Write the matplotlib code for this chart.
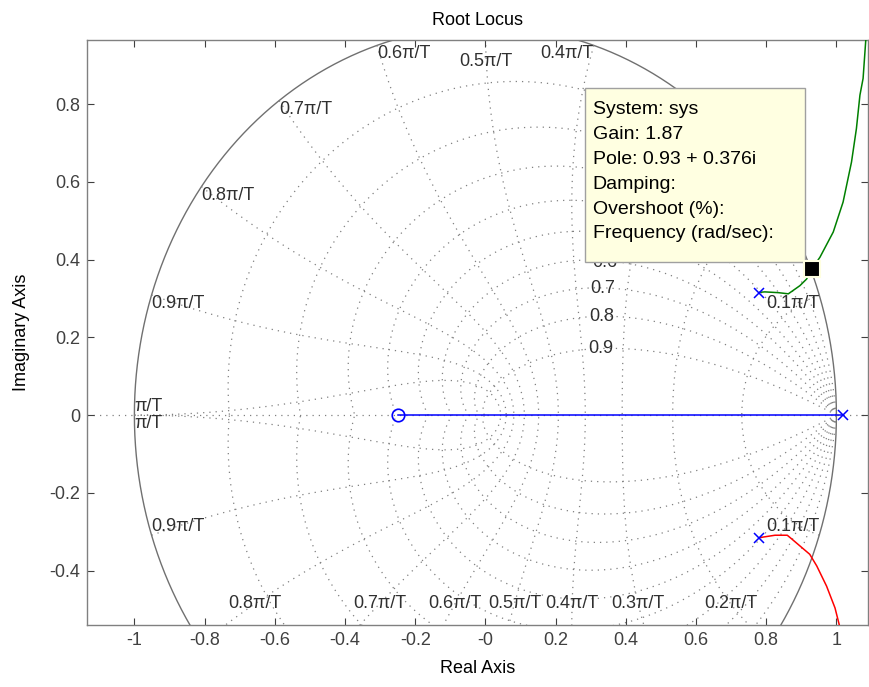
import numpy as np
import matplotlib
matplotlib.use('Agg')
import matplotlib.pyplot as plt
from matplotlib.patches import Rectangle

plt.rcParams['font.family'] = ['Liberation Sans', 'DejaVu Sans']

# --- data ---
zeros_re = [-0.25]
zeros_im = [0.0]
poles_re = [0.78, 0.78, 1.02]
poles_im = [0.315, -0.315, 0.0]

# real-axis branch (blue)
blue_x = [-0.25, 1.02]
blue_y = [0.0, 0.0]

# upper complex branch (green)
green_x = [0.782, 0.796, 0.835, 0.863, 0.896, 0.915, 0.93, 0.953, 0.991, 1.019,
           1.043, 1.057, 1.067, 1.076, 1.084]
green_y = [0.316, 0.317, 0.315, 0.312, 0.333, 0.350, 0.376, 0.406, 0.471, 0.548,
           0.651, 0.737, 0.823, 0.866, 0.969]

# lower complex branch (red)
red_x = [0.782, 0.825, 0.860, 0.872, 0.924, 0.944, 0.972, 0.996, 1.008]
red_y = [-0.315, -0.309, -0.309, -0.318, -0.358, -0.388, -0.440, -0.496, -0.539]

# data tip
tip_x, tip_y = 0.93, 0.376
tip_lines = ['System: sys', 'Gain: 1.87', 'Pole: 0.93 + 0.376i', 'Damping:',
             'Overshoot (%):', 'Frequency (rad/sec):']

# zgrid settings
zetas = [0.1, 0.2, 0.3, 0.4, 0.5, 0.6, 0.7, 0.8, 0.9]
wn_fracs = [0.1, 0.2, 0.3, 0.4, 0.5, 0.6, 0.7, 0.8, 0.9, 1.0]

xlim = (-1.135, 1.09)
ylim = (-0.54, 0.965)

grid_col = '#808080'
lab_col = '#303030'
dots = (0, (1, 4))
fs = 13

fig = plt.figure(figsize=(8.7, 6.87), dpi=100)
ax = fig.add_axes([0.1, 0.0902, 0.8977, 0.8516])
ax.set_xlim(*xlim)
ax.set_ylim(*ylim)

# unit circle
t = np.linspace(0, 2 * np.pi, 721)
ax.plot(np.cos(t), np.sin(t), color='#707070', lw=1.0, zorder=1)

# real axis
ax.plot(xlim, [0, 0], color=grid_col, lw=0.9, ls=dots, zorder=1)

# damping curves
th = np.linspace(0, np.pi, 400)
for z in zetas:
    r = np.exp(-z * th / np.sqrt(1 - z ** 2))
    ax.plot(r * np.cos(th), r * np.sin(th), color=grid_col, lw=0.9, ls=dots, zorder=1)
    ax.plot(r * np.cos(th), -r * np.sin(th), color=grid_col, lw=0.9, ls=dots, zorder=1)
    # label at wn*T = 1
    rl = np.exp(-z)
    al = np.sqrt(1 - z ** 2)
    ax.text(rl * np.cos(al) - 0.005, rl * np.sin(al), f'{z:g}', fontsize=fs,
            color=lab_col, ha='right', va='center', zorder=2)

# natural frequency curves
zz = np.linspace(0, 1, 2000)
for k in wn_fracs:
    wn = k * np.pi
    r = np.exp(-zz * wn)
    a = wn * np.sqrt(1 - zz ** 2)
    cx, cy = r * np.cos(a), r * np.sin(a)
    ax.plot(cx, cy, color=grid_col, lw=0.9, ls=dots, zorder=1)
    ax.plot(cx, -cy, color=grid_col, lw=0.9, ls=dots, zorder=1)
    lab = 'π/T' if k == 1.0 else f'{k:g}π/T'
    for sgn in (1, -1):
        px, py = cx[0], sgn * cy[0]
        lim = ylim[1] if sgn > 0 else ylim[0]
        if abs(py) < abs(lim):
            ha = 'left' if px < -0.01 else ('right' if px > 0.01 else 'center')
            if k == 1.0:
                va = 'bottom' if sgn > 0 else 'top'
            else:
                va = 'top' if sgn > 0 else 'bottom'
        else:
            edge = abs(lim) - 0.055
            i = np.argmax(cy <= edge)
            px, py = cx[i], sgn * cy[i]
            ha, va = 'center', 'center'
        ax.text(px, py, lab, fontsize=fs, color=lab_col, ha=ha, va=va, zorder=2)

# locus branches
ax.plot(blue_x, blue_y, color='#0000ff', lw=1.1, zorder=3)
ax.plot(green_x, green_y, color='#008000', lw=1.1, zorder=3)
ax.plot(red_x, red_y, color='#ff0000', lw=1.1, zorder=3)
ax.plot(poles_re, poles_im, 'x', color='#0000ff', ms=7, mew=1.1, zorder=4)
ax.plot(zeros_re, zeros_im, 'o', mfc='none', mec='#0000ff', ms=9, mew=1.2, zorder=4)

# data tip
ax.plot([tip_x], [tip_y], 's', color='black', mec='#ffffe1', ms=11, mew=1.5, zorder=6)
ax.add_patch(Rectangle((0.6376, 0.6205), 0.2817, 0.2974, transform=ax.transAxes,
                       fc='#ffffe1', ec='#a0a0a0', lw=1.0, zorder=5))
ax.text(0.6475, 0.895, '\n'.join(tip_lines), transform=ax.transAxes, fontsize=14,
        linespacing=1.6, ha='left', va='top', color='black', zorder=6)

# axes styling
ax.set_xticks(np.round(np.arange(-1, 1.01, 0.2), 1))
ax.set_yticks(np.round(np.arange(-0.4, 0.81, 0.2), 1))
ax.set_xticklabels([f'{v:g}' for v in ax.get_xticks()])
ax.set_yticklabels([f'{v:g}' for v in ax.get_yticks()])
ax.tick_params(direction='in', length=5, width=0.8, colors='#404040', labelsize=fs,
               top=True, right=True, pad=5)
for s in ax.spines.values():
    s.set_color('#808080')
    s.set_linewidth(1.0)

ax.set_title('Root Locus', fontsize=fs, pad=11)
ax.set_xlabel('Real Axis', fontsize=fs, labelpad=8)
ax.set_ylabel('Imaginary Axis', fontsize=fs, labelpad=14)

fig.savefig('out.png', dpi=100)
